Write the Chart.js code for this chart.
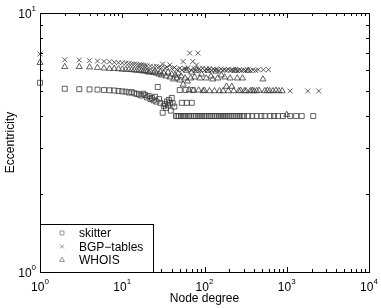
<!DOCTYPE html>
<html>
<head>
<meta charset="utf-8">
<script src="https://cdn.jsdelivr.net/npm/chart.js@4.4.0/dist/chart.umd.min.js"></script>
<style>
  html, body { margin: 0; padding: 0; background: #fff; }
</style>
</head>
<body>
<canvas id="c" width="381" height="308"></canvas>
<script>
// ---------- data ----------
const xMajor = [1, 10, 100, 1000, 10000];
const xExp = ["0", "1", "2", "3", "4"];
const yMajor = [1, 10];
const yExp = ["0", "1"];

const skitterDeg = [1, 2, 3, 4, 5, 6, 7, 8, 9, 10, 11, 12, 13, 14, 15, 16, 17, 18, 19, 20,
  21, 22, 23, 24, 25, 26, 27, 28, 29, 31, 32, 33, 34, 35, 36, 37, 38, 39, 40, 41, 43,
  50, 53, 59, 61, 70, 72,
  45, 47, 49, 52, 55, 58, 62, 65, 69, 74, 78, 83, 88, 93, 99, 105, 112, 118, 125, 133,
  141, 150, 159, 168, 178, 189, 200, 212, 225, 239, 253, 268, 285, 302,
  340, 380, 430, 490, 540, 630, 700, 780, 900, 1100, 1300, 1520, 2100];
const skitterEcc = [5.38, 5.1, 5.08, 5.07, 5.06, 5.04, 5.03, 5.02, 5.0, 4.98, 4.97, 4.93, 4.95, 4.9, 4.87, 4.85, 4.8, 4.88, 4.82, 4.72,
  4.78, 4.65, 4.7, 4.6, 4.75, 4.55, 5.18, 4.65, 4.5, 4.12, 4.38, 4.45, 4.3, 4.55, 4.4, 4.62, 4.5, 4.2, 4.7, 4.48, 4.35,
  5.04, 4.5, 5.04, 4.5, 4.5, 5.04,
  4, 4, 4, 4, 4, 4, 4, 4, 4, 4, 4, 4, 4, 4, 4, 4, 4, 4, 4, 4,
  4, 4, 4, 4, 4, 4, 4, 4, 4, 4, 4, 4, 4, 4,
  4, 4, 4, 4, 4, 4, 4, 4, 4, 4, 4, 4, 4];

const bgpDeg = [1, 2, 3, 4, 5, 6, 7, 8, 9, 10, 11, 12, 13, 14, 15, 16, 17, 18, 19, 20,
  22, 24, 26, 28, 30, 31, 33, 35, 38, 40, 43, 46, 50, 53, 55, 57, 60, 63, 66, 68,
  72, 75, 78, 80, 83, 86, 90, 95, 100, 105, 110, 116, 122, 128, 135, 142, 150, 158, 166, 175,
  185, 195, 205, 216, 228, 240, 253, 267, 282, 298, 315, 335, 360, 390, 420, 450, 520, 600,
  1100, 1800, 2450];
const bgpEcc = [6.95, 6.6, 6.58, 6.55, 6.52, 6.5, 6.48, 6.45, 6.43, 6.42, 6.4, 6.38, 6.36, 6.35, 6.33, 6.31, 6.3, 6.28, 6.27, 6.25,
  6.23, 6.2, 6.22, 6.18, 6.15, 6.35, 6.12, 6.18, 6.3, 6.1, 6.15, 6.05, 6.12, 6.02, 6.5, 6.1, 6.06, 6.15, 7.0, 6.02,
  6.5, 6.1, 6.0, 6.3, 7.0, 6.08, 6.02, 6.12, 6.0, 6.08, 6.02, 6.1, 6.0, 6.07, 6.02, 6.05, 6.0, 6.08, 6.01, 6.04,
  6.02, 6.06, 6.0, 6.03, 6.0, 6.04, 6.0, 6.03, 6.0, 6.02, 6.0, 6.03, 6.0, 6.02, 6.0, 6.04, 6.04, 6.04,
  5.0, 5.0, 5.0];

const whoisDeg = [1, 2, 3, 4, 5, 6, 7, 8, 9, 10, 11, 12, 13, 14, 15, 16, 17, 18, 19, 20, 21, 22,
  24, 25, 26, 28, 29, 30, 32, 34, 36, 38, 40, 42, 44, 46, 48, 50, 52, 55, 58, 60, 62, 65, 68, 70,
  73, 76, 80, 85, 88, 92, 96, 100, 105, 110, 115, 120, 126, 132, 138, 145, 152, 160, 168, 176,
  185, 195, 205, 215, 226, 238, 250, 262, 275, 290, 305, 320, 340, 360, 380, 400, 430, 460,
  514, 540, 580, 620, 680, 740, 800, 880, 1000];
const whoisEcc = [6.43, 6.2, 6.2, 6.18, 6.15, 6.12, 6.1, 6.1, 6.08, 6.06, 6.05, 6.05, 6.03, 6.02, 6.0, 6.02, 5.98, 5.96, 5.98, 5.95, 5.9, 5.93,
  5.88, 5.95, 5.85, 5.8, 5.92, 5.75, 5.85, 5.7, 5.9, 5.65, 5.8, 5.55, 5.75, 5.6, 5.85, 5.5, 5.7, 5.3, 5.6, 6.0, 5.45, 5.05, 5.6, 5.9,
  5.02, 5.65, 6.0, 5.03, 5.6, 5.8, 5.0, 5.02, 5.6, 6.0, 5.0, 5.7, 5.55, 5.0, 5.95, 5.6, 5.0, 5.75, 5.0, 5.65,
  5.2, 5.0, 5.6, 5.2, 5.0, 6.0, 5.6, 5.0, 5.02, 5.6, 5.0, 5.0, 6.0, 5.0, 5.02, 5.0, 5.0, 5.02,
  5.55, 5.0, 5.02, 5.0, 5.0, 5.02, 5.0, 5.0, 4.05];

function pairs(xs, ys) {
  return xs.map((v, i) => ({ x: v, y: ys[i] }));
}

const markColor = "#3a3a3a";
const FONT = '"Liberation Sans", Arial, Helvetica, sans-serif';

// ---------- frame, inward ticks, power-of-ten labels, legend ----------
function drawPow(ctx, exp, x, y, align) {
  ctx.font = "12px " + FONT;
  const wb = ctx.measureText("10").width;
  ctx.font = "8px " + FONT;
  const we = ctx.measureText(exp).width;
  let start = align === "center" ? x - (wb + we) / 2 : x - wb - we;
  ctx.font = "12px " + FONT;
  ctx.fillText("10", start, y);
  ctx.font = "8px " + FONT;
  ctx.fillText(exp, start + wb, y - 7);
}

const framePlugin = {
  id: "frame",
  afterDraw(chart) {
    const { ctx, chartArea: a, scales } = chart;
    const xs = scales.x, ys = scales.y;
    ctx.save();
    ctx.strokeStyle = "#000";
    ctx.lineWidth = 1;
    ctx.strokeRect(Math.round(a.left) + 0.5, Math.round(a.top) + 0.5,
      Math.round(a.right - a.left), Math.round(a.bottom - a.top));

    ctx.beginPath();
    for (let k = 0; k < 4; k++) {
      for (let m = 1; m <= 10; m++) {
        const v = Math.pow(10, k) * m;
        const px = Math.round(xs.getPixelForValue(v)) + 0.5;
        const len = (m === 1 || m === 10) ? 5 : 3;
        ctx.moveTo(px, a.bottom); ctx.lineTo(px, a.bottom - len);
        ctx.moveTo(px, a.top); ctx.lineTo(px, a.top + len);
      }
    }
    for (let m = 1; m <= 10; m++) {
      const py = Math.round(ys.getPixelForValue(m)) + 0.5;
      const len = (m === 1 || m === 10) ? 5 : 3;
      ctx.moveTo(a.left, py); ctx.lineTo(a.left + len, py);
      ctx.moveTo(a.right, py); ctx.lineTo(a.right - len, py);
    }
    ctx.stroke();

    ctx.fillStyle = "#000";
    ctx.textBaseline = "alphabetic";
    ctx.textAlign = "left";
    xMajor.forEach((v, i) => drawPow(ctx, xExp[i], xs.getPixelForValue(v), a.bottom + 19, "center"));
    yMajor.forEach((v, i) => drawPow(ctx, yExp[i], a.left - 4, ys.getPixelForValue(v) + 5, "right"));

    // axis titles
    ctx.font = "12px " + FONT;
    ctx.textAlign = "center";
    ctx.fillText("Node degree", (a.left + a.right) / 2, 302);
    ctx.save();
    ctx.translate(14, (a.top + a.bottom) / 2);
    ctx.rotate(-Math.PI / 2);
    ctx.fillText("Eccentricity", 0, 0);
    ctx.restore();

    // legend box in the lower left corner
    const lx = Math.round(a.left) + 0.5, ly = 224.5, lw = 113, lh = Math.round(a.bottom) - 224;
    ctx.fillStyle = "#fff";
    ctx.fillRect(lx, ly, lw, lh);
    ctx.strokeStyle = "#000";
    ctx.strokeRect(lx, ly, lw, lh);
    ctx.textAlign = "left";
    chart.data.datasets.forEach((ds, i) => {
      const cy = 233 + i * 13.5;
      ctx.strokeStyle = "#777";
      ctx.fillStyle = "rgba(0,0,0,0)";
      ctx.lineWidth = 0.8;
      Chart.helpers.drawPoint(ctx, { pointStyle: ds.pointStyle, radius: 2.8, rotation: 0, borderWidth: 0.8 }, 62, cy);
      ctx.fillStyle = "#000";
      ctx.font = "12px " + FONT;
      ctx.fillText(ds.label, 79, cy + 4);
    });
    ctx.restore();
  }
};

function series(label, style, data) {
  return {
    label, data, pointStyle: style, clip: false,
    pointRadius: 3.5, pointHoverRadius: 3.5,
    borderColor: markColor, backgroundColor: "rgba(0,0,0,0)", borderWidth: 0.8
  };
}

new Chart(document.getElementById("c"), {
  type: "scatter",
  data: {
    datasets: [
      series("skitter", "rect", pairs(skitterDeg, skitterEcc)),
      series("BGP\u2212tables", "crossRot", pairs(bgpDeg, bgpEcc)),
      series("WHOIS", "triangle", pairs(whoisDeg, whoisEcc))
    ]
  },
  options: {
    responsive: false,
    devicePixelRatio: 1,
    animation: false,
    layout: { padding: { left: 40, top: 13, right: 12, bottom: 36 } },
    scales: {
      x: { type: "logarithmic", min: 1, max: 10000, display: false },
      y: { type: "logarithmic", min: 1, max: 10, display: false }
    },
    plugins: { legend: { display: false }, tooltip: { enabled: false } }
  },
  plugins: [framePlugin]
});
</script>
</body>
</html>
